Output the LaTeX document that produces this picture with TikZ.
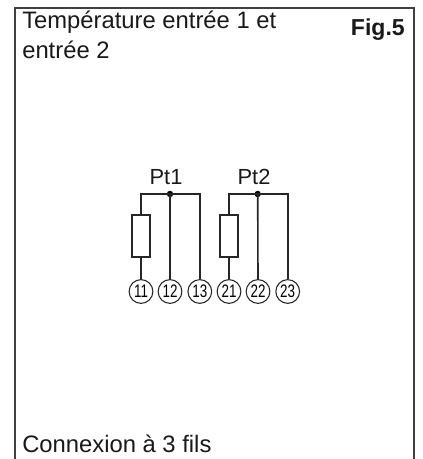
\documentclass[tikz,border=0pt]{standalone}
\usepackage{fontspec}
\setmainfont{Liberation Sans}
\tikzset{
  wire/.style={line width=1.2pt,draw=black!85},
  frameline/.style={line width=1.1pt,draw=black!75},
  term/.style={circle,draw=black!85,line width=0.8pt,minimum size=17.8pt,inner sep=0pt,font=\fontsize{13.6pt}{13.6pt}\selectfont},
  res/.style={rectangle,draw=black!85,line width=1.2pt,minimum width=13.5pt,minimum height=31.5pt,inner sep=0pt,fill=white},
  junction/.style={circle,fill=black,inner sep=0pt,minimum size=4.8pt},
  label/.style={anchor=base west,inner sep=0pt,text=black!90},
  bigtext/.style={label,font=\fontsize{17.85pt}{17.85pt}\selectfont},
  pt/.style={anchor=base,inner sep=0pt,text=black!90,font=\fontsize{16.4pt}{16.4pt}\selectfont},
}
\newcommand{\narrow}[1]{\scalebox{.74}[1]{#1}}
\begin{document}
\begin{tikzpicture}[x=0.75pt,y=-0.75pt]
\useasboundingbox (0,0) rectangle (423,459);
\coordinate (tl) at (15,8);
\coordinate (tr) at (414,8);
\coordinate (bl) at (15,459);
\coordinate (br) at (414,459);
\draw[frameline] (bl) -- (tl) -- (tr) -- (br);
\node[bigtext] (title1) at (22,29) {Température entrée 1 et};
\node[bigtext] (title2) at (22,59) {entrée 2};
\node[label,anchor=base east,font=\bfseries\fontsize{17.3pt}{17.3pt}\selectfont] (fig) at (405,36) {Fig.5};
\node[bigtext] (conn) at (22,452.7) {Connexion à 3 fils};
\node[pt] (pt1) at (166,184.7) {Pt1};
\node[pt] (pt2) at (254,184.7) {Pt2};
\node[junction] (d1) at (170,194) {};
\node[junction] (d2) at (257.7,194) {};
\node[res] (r1) at (141,235.8) {};
\node[res] (r2) at (229,235.8) {};
\node[term] (t11) at (141,291.5) {\narrow{11}};
\node[term] (t12) at (170,291.5) {\narrow{12}};
\node[term] (t13) at (199.8,291.5) {\narrow{13}};
\node[term] (t21) at (229,291.5) {\narrow{21}};
\node[term] (t22) at (258,291.5) {\narrow{22}};
\node[term] (t23) at (287.7,291.5) {\narrow{23}};
\draw[wire] (d1.center) -- (t12.north);
\draw[wire] (d2.center) -- (t22.north);
\draw[wire] (r1.north) |- (d1.center);
\draw[wire] (r2.north) |- (d2.center);
\draw[wire] (d1.center) -| (t13.north);
\draw[wire] (d2.center) -| (t23.north);
\draw[wire] (r1.south) -- (t11.north);
\draw[wire] (r2.south) -- (t21.north);
\end{tikzpicture}
\end{document}
